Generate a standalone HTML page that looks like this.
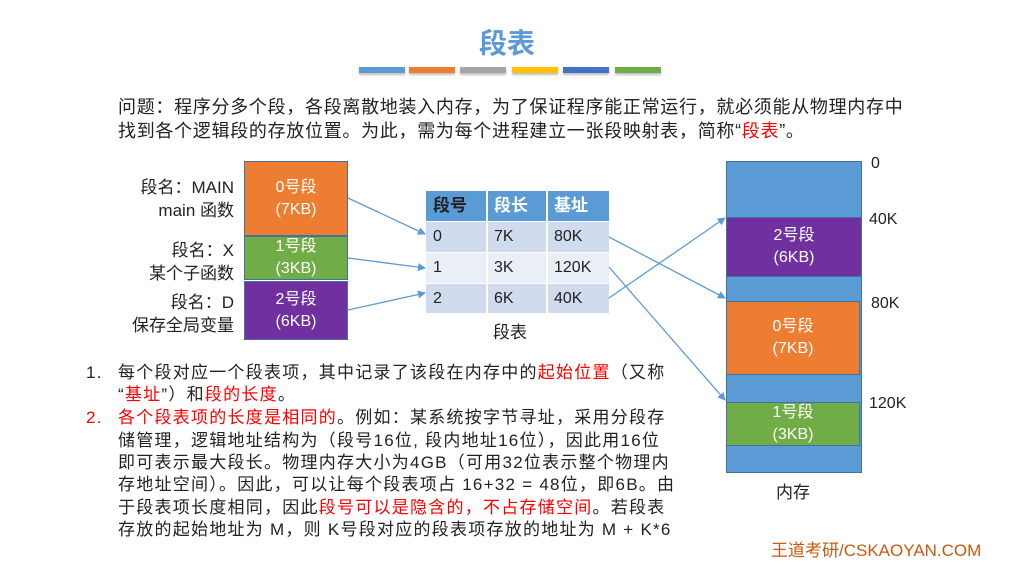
<!DOCTYPE html>
<html><head><meta charset="utf-8"><style>
*{margin:0;padding:0;box-sizing:border-box}
body{width:1011px;height:584px;background:#fff;position:relative;overflow:hidden;font-family:"Liberation Sans","Noto Sans CJK SC",sans-serif;color:#222}
.a{position:absolute;white-space:nowrap}
.r{color:#f00}
.bar{position:absolute;top:67px;height:6px;width:46px;box-shadow:0 2px 2px rgba(0,0,0,.25)}
.blk{position:absolute;color:#fff;text-align:center;font-size:16px;line-height:22px;display:flex;flex-direction:column;justify-content:center;border:1px solid #41719c}
.cell{position:absolute;font-size:16px;line-height:30px;padding-left:7px}
.p{font-size:17px;letter-spacing:1.25px;line-height:22.5px}
.lab{left:90px;width:144px;text-align:right;font-size:17px;line-height:23px}
</style></head><body>
<div class="a" style="left:479px;top:22px;font-size:28px;color:#5b9bd5;font-weight:bold">段表</div>
<div class="bar" style="left:359px;background:#5b9bd5"></div>
<div class="bar" style="left:409px;background:#ed7d31"></div>
<div class="bar" style="left:460px;background:#a5a5a5"></div>
<div class="bar" style="left:512px;background:#ffc000"></div>
<div class="bar" style="left:563px;background:#4472c4"></div>
<div class="bar" style="left:615px;background:#70ad47"></div>

<div class="a" style="left:118px;top:93px;font-size:18px;letter-spacing:.7px">问题：程序分多个段，各段离散地装入内存，为了保证程序能正常运行，就必须能从物理内存中</div>
<div class="a" style="left:118px;top:117px;font-size:18px;letter-spacing:.7px">找到各个逻辑段的存放位置。为此，需为每个进程建立一张段映射表，简称“<span class="r">段表</span>”。</div>

<div class="a lab" style="top:176px">段名：MAIN<br>main 函数</div>
<div class="a lab" style="top:239px">段名：X<br>某个子函数</div>
<div class="a lab" style="top:291px">段名：D<br>保存全局变量</div>
<div class="blk" style="left:244px;top:161px;width:104px;height:75px;background:#ed7d31">0号段<br>(7KB)</div>
<div class="blk" style="left:244px;top:236px;width:104px;height:44px;background:#70ad47">1号段<br>(3KB)</div>
<div class="blk" style="left:244px;top:281px;width:104px;height:59px;background:#7030a0">2号段<br>(6KB)</div>

<div class="a" style="left:426px;top:191px;width:183px;height:30px;background:#5b9bd5"></div>
<div class="a" style="left:426px;top:222px;width:183px;height:30px;background:#d0dcee"></div>
<div class="a" style="left:426px;top:253px;width:183px;height:30px;background:#e9eef7"></div>
<div class="a" style="left:426px;top:284px;width:183px;height:29px;background:#d0dcee"></div>
<div class="a" style="left:486px;top:191px;width:2px;height:122px;background:#fff"></div>
<div class="a" style="left:546px;top:191px;width:2px;height:122px;background:#fff"></div>
<div class="cell a" style="left:426px;top:191px;font-weight:bold;font-size:17px">段号</div>
<div class="cell a" style="left:487px;top:191px;font-weight:bold;color:#fff;font-size:17px">段长</div>
<div class="cell a" style="left:547px;top:191px;font-weight:bold;color:#fff;font-size:17px">基址</div>
<div class="cell a" style="left:426px;top:222px">0</div><div class="cell a" style="left:487px;top:222px">7K</div><div class="cell a" style="left:547px;top:222px">80K</div>
<div class="cell a" style="left:426px;top:253px">1</div><div class="cell a" style="left:487px;top:253px">3K</div><div class="cell a" style="left:547px;top:253px">120K</div>
<div class="cell a" style="left:426px;top:284px">2</div><div class="cell a" style="left:487px;top:284px">6K</div><div class="cell a" style="left:547px;top:284px">40K</div>
<div class="a" style="left:493px;top:318px;font-size:17px">段表</div>

<div class="a" style="left:726px;top:161px;width:136px;height:312px;background:#5b9bd5;border:1px solid #41719c"></div>
<div class="blk" style="left:726px;top:217px;width:136px;height:60px;background:#7030a0">2号段<br>(6KB)</div>
<div class="blk" style="left:726px;top:301px;width:134px;height:74px;background:#ed7d31">0号段<br>(7KB)</div>
<div class="blk" style="left:726px;top:402px;width:134px;height:44px;background:#70ad47">1号段<br>(3KB)</div>
<div class="a" style="left:871px;top:155px;font-size:16px">0</div>
<div class="a" style="left:869px;top:211px;font-size:16px">40K</div>
<div class="a" style="left:871px;top:295px;font-size:16px">80K</div>
<div class="a" style="left:869px;top:395px;font-size:16px">120K</div>
<div class="a" style="left:776px;top:478px;font-size:17px">内存</div>

<svg class="a" style="left:0;top:0" width="1011" height="584">
<defs><marker id="m" markerWidth="8" markerHeight="8" refX="7" refY="4" orient="auto" markerUnits="userSpaceOnUse"><path d="M0,0L8,4L0,8z" fill="#5b9bd5"/></marker></defs>
<g stroke="#5b9bd5" stroke-width="1.3" fill="none" marker-end="url(#m)">
<line x1="348" y1="198" x2="425" y2="234"/>
<line x1="348" y1="258" x2="425" y2="268"/>
<line x1="348" y1="310" x2="425" y2="293"/>
<line x1="609" y1="237" x2="725" y2="298"/>
<line x1="609" y1="267" x2="725" y2="400"/>
<line x1="609" y1="298" x2="725" y2="218"/>
</g></svg>

<div class="a p" style="left:86px;top:362px">1.</div>
<div class="a p" style="left:118px;top:362px">每个段对应一个段表项，其中记录了该段在内存中的<span class="r">起始位置</span>（又称</div>
<div class="a p" style="left:118px;top:384px">“<span class="r">基址</span>”）和<span class="r">段的长度</span>。</div>
<div class="a p r" style="left:86px;top:407px">2.</div>
<div class="a p" style="left:118px;top:407px"><span class="r">各个段表项的长度是相同的</span>。例如：某系统按字节寻址，采用分段存</div>
<div class="a p" style="left:118px;top:430px">储管理，逻辑地址结构为（段号16位, 段内地址16位），因此用16位</div>
<div class="a p" style="left:118px;top:452px">即可表示最大段长。物理内存大小为4GB（可用32位表示整个物理内</div>
<div class="a p" style="left:118px;top:474px">存地址空间）。因此，可以让每个段表项占 16+32 = 48位，即6B。由</div>
<div class="a p" style="left:118px;top:497px">于段表项长度相同，因此<span class="r">段号可以是隐含的，不占存储空间</span>。若段表</div>
<div class="a p" style="left:118px;top:519px">存放的起始地址为 M，则 K号段对应的段表项存放的地址为 M + K*6</div>

<div class="a" style="left:771px;top:536px;font-size:17px;color:#c55a11">王道考研/CSKAOYAN.COM</div>
</body></html>
